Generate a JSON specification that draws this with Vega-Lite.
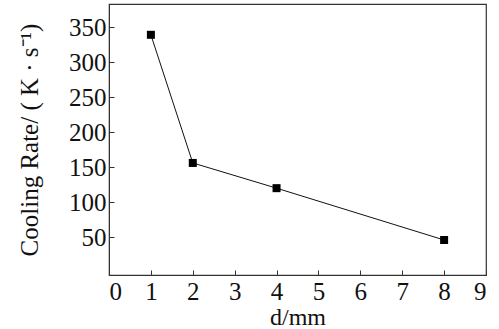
{
  "$schema": "https://vega.github.io/schema/vega-lite/v6.json",
  "width": 377,
  "height": 271,
  "padding": {"left": 109, "top": 4, "right": 13, "bottom": 54},
  "autosize": {"type": "none"},
  "background": "white",
  "config": {
    "view": {"stroke": "#333333", "strokeWidth": 1.2},
    "font": "Liberation Serif"
  },
  "data": {
    "values": [
      {"d": 1, "rate": 339},
      {"d": 2, "rate": 156},
      {"d": 4, "rate": 120},
      {"d": 8, "rate": 46}
    ]
  },
  "encoding": {
    "x": {
      "field": "d", "type": "quantitative",
      "scale": {"domain": [0, 9], "nice": false},
      "axis": {
        "title": "d/mm", "values": [0,1,2,3,4,5,6,7,8,9], "grid": false,
        "tickSize": -5, "tickColor": "#333333", "domainColor": "#333333",
        "labelFont": "Liberation Serif", "labelFontSize": 25, "labelColor": "#111111",
        "labelPadding": 9, "titleFont": "Liberation Serif", "titleFontSize": 24,
        "titleFontWeight": "normal", "titleColor": "#111111", "titlePadding": 1
      }
    },
    "y": {
      "field": "rate", "type": "quantitative",
      "scale": {"domain": [-4, 383], "nice": false, "zero": false},
      "axis": {
        "title": "Cooling Rate/ ( K · s⁻¹)", "values": [50,100,150,200,250,300,350], "grid": false,
        "tickSize": -5, "tickColor": "#333333", "domainColor": "#333333",
        "labelFont": "Liberation Serif", "labelFontSize": 25, "labelColor": "#111111",
        "labelPadding": 8, "titleFont": "Liberation Serif", "titleFontSize": 25,
        "titleFontWeight": "normal", "titleColor": "#111111", "titlePadding": 26
      }
    }
  },
  "layer": [
    {"mark": {"type": "line", "color": "#111111", "strokeWidth": 1}},
    {"mark": {"type": "point", "shape": "square", "filled": true, "color": "#000000", "size": 64, "opacity": 1}}
  ]
}
